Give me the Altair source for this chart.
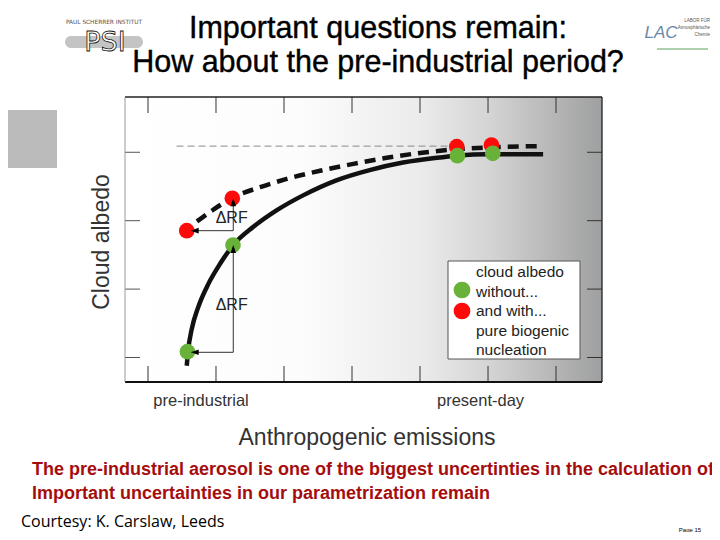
import altair as alt
import pandas as pd

# ---------------- data ----------------
solid_x = [0.57, 0.59, 0.64, 0.74, 0.89, 1.06, 1.25, 1.55, 1.89, 2.28, 2.77, 3.26, 3.75, 4.25, 4.55, 4.98, 5.81]
solid_y = [-0.12, 0.10, 0.40, 0.74, 1.08, 1.37, 1.64, 1.91, 2.15, 2.37, 2.59, 2.74, 2.85, 2.92, 2.95, 2.97, 2.97]
dash_x = [0.72, 0.96, 1.25, 1.65, 2.04, 2.53, 3.02, 3.51, 4.00, 4.49, 4.98, 5.81]
dash_y = [1.99, 2.16, 2.34, 2.49, 2.61, 2.73, 2.83, 2.92, 2.99, 3.04, 3.07, 3.09]
green_x = [0.58, 1.25, 4.55, 5.07]
green_y = [0.085, 1.645, 2.95, 2.985]
red_x = [0.57, 1.24, 4.54, 5.05]
red_y = [1.854, 2.327, 3.082, 3.107]
ref_x = [0.42, 4.49]
ref_y = [3.09, 3.09]
x_ticks = [0, 1, 2, 3, 4, 5, 6]
y_ticks = [0, 1, 2, 3]
seg_x = [1.254, 1.254, 1.254, 1.254]
seg_x2 = [1.254, 0.64, 1.254, 0.64]
seg_y = [0.076, 0.076, 1.854, 1.854]
seg_y2 = [1.645, 0.076, 2.327, 1.854]
up_tip_x = [1.254, 1.254]
up_tip_y = [1.645, 2.327]
left_tip_x = [0.628, 0.628]
left_tip_y = [0.076, 1.854]
drf_x = [1.23, 1.23]
drf_y = [0.77, 2.035]
drf_text = ["ΔRF", "ΔRF"]
xlab_x = [0.78, 4.89]
xlab_text = ["pre-industrial", "present-day"]
legend_lines = ["cloud albedo", "without...", "and with...", "pure biogenic", "nucleation"]
title_lines = ["Important questions remain:", "How about the pre-industrial period?"]
note_lines = ["The pre-industrial aerosol is one of the biggest uncertinties in the calculation of the",
              "Important uncertainties in our parametrization remain"]

W, H = 477, 285
xs = alt.Scale(domain=[-0.338, 6.676], nice=False, zero=False)
ys = alt.Scale(domain=[-0.358, 3.808], nice=False, zero=False)
FONT = "Liberation Sans"

one = alt.Chart(pd.DataFrame({"a": [0]}))

bg = one.mark_rect(
    fill=alt.LinearGradient(
        gradient="linear", x1=0, x2=1, y1=0, y2=0,
        stops=[alt.GradientStop(color="#ffffff", offset=0),
               alt.GradientStop(color="#fcfcfc", offset=0.37),
               alt.GradientStop(color="#ebebeb", offset=0.62),
               alt.GradientStop(color="#d3d3d3", offset=0.77),
               alt.GradientStop(color="#b8b8b8", offset=0.89),
               alt.GradientStop(color="#9e9fa0", offset=1.0)]),
    stroke=None,
).encode(x=alt.value(0), x2=alt.value(W), y=alt.value(0), y2=alt.value(H))

ref = alt.Chart(pd.DataFrame({"x": ref_x, "y": ref_y})).mark_line(
    color="#8a8a8a", strokeWidth=1, strokeDash=[7, 4]
).encode(x=alt.X("x:Q", scale=xs, axis=None), y=alt.Y("y:Q", scale=ys, axis=None))

xt = pd.DataFrame({"t": x_ticks})
yt = pd.DataFrame({"t": y_ticks})
tick_top = alt.Chart(xt).mark_rule(color="#333", strokeWidth=1).encode(
    x=alt.X("t:Q", scale=xs, axis=None), y=alt.value(0), y2=alt.value(16))
tick_bot = alt.Chart(xt).mark_rule(color="#333", strokeWidth=1).encode(
    x=alt.X("t:Q", scale=xs, axis=None), y=alt.value(H - 16), y2=alt.value(H))
tick_left = alt.Chart(yt).mark_rule(color="#555", strokeWidth=1).encode(
    y=alt.Y("t:Q", scale=ys, axis=None), x=alt.value(0), x2=alt.value(15))
tick_right = alt.Chart(yt).mark_rule(color="#333", strokeWidth=1).encode(
    y=alt.Y("t:Q", scale=ys, axis=None), x=alt.value(W - 15), x2=alt.value(W))

solid = alt.Chart(pd.DataFrame({"x": solid_x, "y": solid_y, "o": range(len(solid_x))})).mark_line(
    color="#111", strokeWidth=4.5, interpolate="monotone"
).encode(x=alt.X("x:Q", scale=xs, axis=None), y=alt.Y("y:Q", scale=ys, axis=None), order="o:Q")

dashed = alt.Chart(pd.DataFrame({"x": dash_x, "y": dash_y, "o": range(len(dash_x))})).mark_line(
    color="#111", strokeWidth=4.5, strokeDash=[11, 7], interpolate="monotone"
).encode(x=alt.X("x:Q", scale=xs, axis=None), y=alt.Y("y:Q", scale=ys, axis=None), order="o:Q")

segs = alt.Chart(pd.DataFrame({"x": seg_x, "x2": seg_x2, "y": seg_y, "y2": seg_y2})).mark_rule(
    color="#333", strokeWidth=1
).encode(x=alt.X("x:Q", scale=xs, axis=None), x2="x2:Q",
         y=alt.Y("y:Q", scale=ys, axis=None), y2="y2:Q")

drf = alt.Chart(pd.DataFrame({"x": drf_x, "y": drf_y, "t": drf_text})).mark_text(
    font=FONT, fontSize=16, color="#222", align="center", baseline="middle"
).encode(x=alt.X("x:Q", scale=xs, axis=None), y=alt.Y("y:Q", scale=ys, axis=None), text="t:N")

reds = alt.Chart(pd.DataFrame({"x": red_x, "y": red_y})).mark_circle(
    color="#ff0a0a", opacity=1, size=245
).encode(x=alt.X("x:Q", scale=xs, axis=None), y=alt.Y("y:Q", scale=ys, axis=None))
greens = alt.Chart(pd.DataFrame({"x": green_x, "y": green_y})).mark_circle(
    color="#68b23a", opacity=1, size=245
).encode(x=alt.X("x:Q", scale=xs, axis=None), y=alt.Y("y:Q", scale=ys, axis=None))

up_heads = alt.Chart(pd.DataFrame({"x": up_tip_x, "y": up_tip_y})).mark_point(
    shape="M0,0L-0.7,2L0.7,2Z", filled=True, color="#000", opacity=1, size=64
).encode(x=alt.X("x:Q", scale=xs, axis=None), y=alt.Y("y:Q", scale=ys, axis=None))
left_heads = alt.Chart(pd.DataFrame({"x": left_tip_x, "y": left_tip_y})).mark_point(
    shape="M0,0L2,-0.7L2,0.7Z", filled=True, color="#000", opacity=1, size=64
).encode(x=alt.X("x:Q", scale=xs, axis=None), y=alt.Y("y:Q", scale=ys, axis=None))

# legend (drawn by hand, as in the figure)
leg_box = one.mark_rect(fill="white", stroke="#555", strokeWidth=1).encode(
    x=alt.value(323), x2=alt.value(455), y=alt.value(164), y2=alt.value(262))
leg_g = one.mark_circle(color="#68b23a", opacity=1, size=280).encode(x=alt.value(337), y=alt.value(193))
leg_r = one.mark_circle(color="#ff0a0a", opacity=1, size=280).encode(x=alt.value(337), y=alt.value(214))
leg_txt = one.mark_text(
    text=legend_lines, font=FONT, fontSize=15.5, color="#222", align="left",
    baseline="alphabetic", lineHeight=19.6
).encode(x=alt.value(351), y=alt.value(180))

# frame
fr_top = one.mark_rule(color="#222", strokeWidth=1.3).encode(x=alt.value(0), x2=alt.value(W), y=alt.value(0))
fr_right = one.mark_rule(color="#222", strokeWidth=1.3).encode(x=alt.value(W), y=alt.value(0), y2=alt.value(H))
fr_bot = one.mark_rule(color="#111", strokeWidth=2).encode(x=alt.value(0), x2=alt.value(W), y=alt.value(H))
fr_left = one.mark_rule(color="#999", strokeWidth=1).encode(x=alt.value(0), y=alt.value(0), y2=alt.value(H))

# axis texts
xlabs = alt.Chart(pd.DataFrame({"x": xlab_x, "t": xlab_text})).mark_text(
    font=FONT, fontSize=16.5, color="#333", align="center", baseline="alphabetic"
).encode(x=alt.X("x:Q", scale=xs, axis=None), y=alt.value(309), text="t:N")
xtitle = one.mark_text(text="Anthropogenic emissions", font=FONT, fontSize=23, color="#333",
                       align="center", baseline="alphabetic").encode(x=alt.value(242), y=alt.value(348))
ytitle = one.mark_text(text="Cloud albedo", font=FONT, fontSize=23, color="#333", angle=270,
                       align="center", baseline="middle").encode(x=alt.value(-23), y=alt.value(145))

# slide texts
title = one.mark_text(text=title_lines, font=FONT, fontSize=30.5, color="#000", align="center",
                      baseline="alphabetic", lineHeight=34, stroke="#000", strokeWidth=0.4
                      ).encode(x=alt.value(253), y=alt.value(-59))
note = one.mark_text(text=note_lines, font=FONT, fontSize=18, fontWeight="bold", color="#a50d0d",
                     align="left", baseline="alphabetic", lineHeight=24).encode(x=alt.value(-93), y=alt.value(378))
courtesy = one.mark_text(text="Courtesy: K. Carslaw, Leeds", font="Open Sans", fontSize=16, color="#000",
                         align="left", baseline="alphabetic").encode(x=alt.value(-104), y=alt.value(430))
page = one.mark_text(text="Page 15", font=FONT, fontSize=6, color="#000", align="center",
                     baseline="alphabetic").encode(x=alt.value(565), y=alt.value(435))
grey_box = one.mark_rect(fill="#bbbbbb").encode(x=alt.value(-125), x2=alt.value(-68), y=alt.value(13), y2=alt.value(71))

# logos (approximated with text and shapes)
psi_small = one.mark_text(text="PAUL SCHERRER INSTITUT", font="DejaVu Sans", fontSize=5.8, color="#555",
                          align="center", baseline="middle").encode(x=alt.value(-21), y=alt.value(-75))
psi_bar = one.mark_rect(fill="#c4c4c4", cornerRadius=6).encode(
    x=alt.value(-60), x2=alt.value(18), y=alt.value(-61), y2=alt.value(-49))
psi_txt = one.mark_text(text="PSI", font="DejaVu Sans", fontSize=27, fill="white", stroke="#111",
                        strokeWidth=0.8, align="center", baseline="middle").encode(x=alt.value(-20), y=alt.value(-54))
lac_logo = one.mark_text(text="LAC", font=FONT, fontSize=17, fontStyle="italic", color="#6a88a8",
                         align="center", baseline="middle").encode(x=alt.value(536), y=alt.value(-64))
lac_line = one.mark_rule(color="#5aa05a", strokeWidth=1).encode(x=alt.value(532), x2=alt.value(583), y=alt.value(-48))
lac_txt = one.mark_text(text=["LABOR FÜR", "Atmosphärische", "Chemie"], font=FONT, fontSize=4.5, color="#555",
                        align="right", baseline="alphabetic", lineHeight=7).encode(x=alt.value(585), y=alt.value(-75))

chart = alt.layer(
    bg, ref, tick_top, tick_bot, tick_left, tick_right, dashed, solid, segs, drf,
    reds, greens, up_heads, left_heads, leg_box, leg_g, leg_r, leg_txt,
    fr_top, fr_right, fr_bot, fr_left, xlabs, xtitle, ytitle,
    title, note, courtesy, page, grey_box, psi_small, psi_bar, psi_txt,
    lac_logo, lac_line, lac_txt,
).properties(
    width=W, height=H,
    padding={"left": 117, "top": 89, "right": 110, "bottom": 150},
    autosize="none",
    background="white",
).configure_view(stroke=None)

chart.save("out.html", embed_options={"renderer": "svg", "actions": False})
